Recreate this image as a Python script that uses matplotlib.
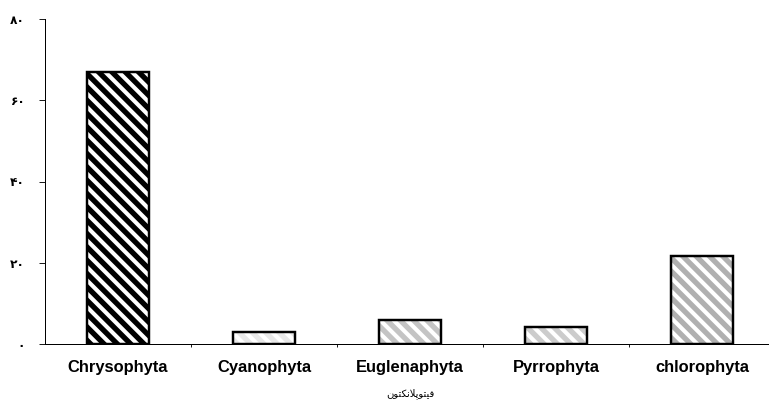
import matplotlib
matplotlib.use("Agg")
import matplotlib.pyplot as plt
import numpy as np

# phytoplankton groups and their percentages
groups = ["Chrysophyta", "Cyanophyta", "Euglenaphyta", "Pyrrophyta", "chlorophyta"]
values = [67, 3, 6, 4.2, 21.7]
y_ticks = [0, 20, 40, 60, 80]
y_tick_labels = ["۰", "۲۰", "۴۰", "۶۰", "۸۰"]
# "فیتوپلانکتون" written in presentation forms, reversed for left-to-right drawing
xlabel_forms = "\uFED3\uFBFF\uFE98\uFEEE\uFB58\uFEFC\uFEE7\uFB91\uFE98\uFEEE\uFEE5"
xlabel = xlabel_forms[::-1]

plt.rcParams["font.family"] = ["Liberation Sans", "DejaVu Sans"]
plt.rcParams["hatch.linewidth"] = 4.8

dpi = 80
fig = plt.figure(figsize=(769 / dpi, 406 / dpi), dpi=dpi)
ax = fig.add_axes([45 / 769, 62 / 406, 730 / 769, 325 / 406])

x = np.arange(len(groups))
w = 0.42
hatch_colors = ["black", "#e8e8e8", "#c4c4c4", "#cccccc", "#b0b0b0"]
for xi, v, hc in zip(x, values, hatch_colors):
    ax.bar(xi, v, width=w, color="white", edgecolor=hc, hatch="\\\\", linewidth=0, zorder=2)
    ax.bar(xi, v, width=w, color="none", edgecolor="black", linewidth=2.2, zorder=3)

ax.set_xlim(-0.5, len(groups) - 0.5)
ax.set_ylim(0, 80)
ax.set_yticks(y_ticks)
ax.set_yticklabels(y_tick_labels, family=["DejaVu Sans"], fontsize=11, fontweight="bold")
ax.tick_params(axis="y", length=5, width=0.8, pad=13, direction="out")

ax.set_xticks(x)
ax.set_xticklabels(groups, fontsize=14.8, fontweight="bold")
ax.set_xticks(x[:-1] + 0.5, minor=True)
ax.tick_params(axis="x", which="major", length=0, pad=14)
ax.tick_params(axis="x", which="minor", length=3, width=0.8, direction="out")

ax.set_xlabel(xlabel, family=["DejaVu Sans"], fontsize=9, labelpad=12)

for side in ["top", "right"]:
    ax.spines[side].set_visible(False)
ax.spines["left"].set_linewidth(0.9)
ax.spines["bottom"].set_linewidth(0.9)

fig.savefig("out.png", dpi=dpi)
